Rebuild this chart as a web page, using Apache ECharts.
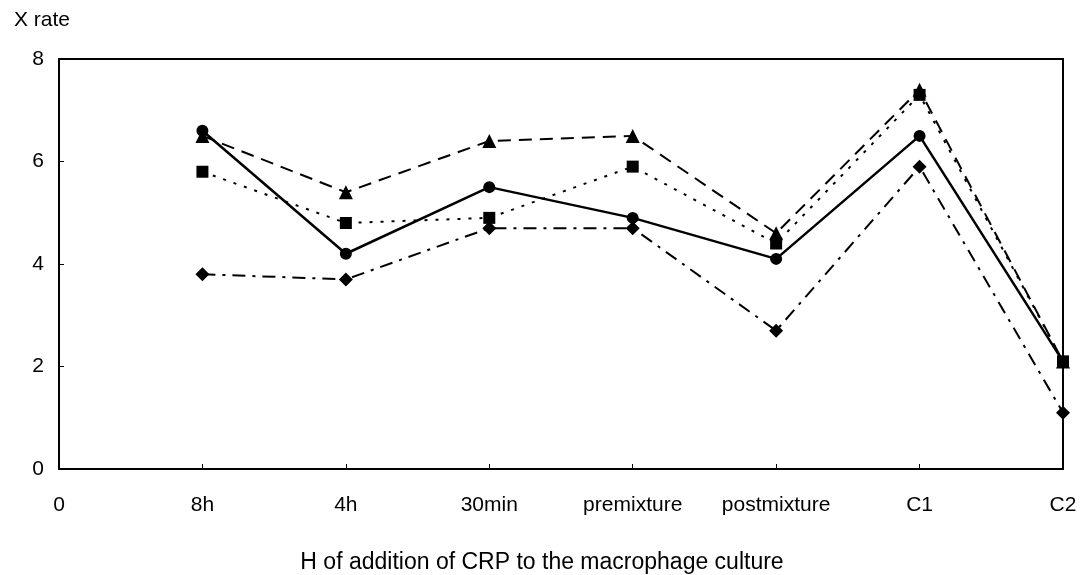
<!DOCTYPE html>
<html>
<head>
<meta charset="utf-8">
<script src="https://cdn.jsdelivr.net/npm/echarts@6/dist/echarts.min.js"></script>
<style>html,body{margin:0;padding:0;background:#fff;}#c{width:1081px;height:575px;}</style>
</head>
<body>
<div id="c"></div>
<script>
var categories = ['8h', '4h', '30min', 'premixture', 'postmixture', 'C1', 'C2'];
var xTickLabels = ['0'].concat(categories);
var circleSeries = [6.6, 4.2, 5.5, 4.9, 4.1, 6.5, 2.1];
var triangleSeries = [6.5, 5.4, 6.4, 6.5, 4.6, 7.4, 2.1];
var squareSeries = [5.8, 4.8, 4.9, 5.9, 4.4, 7.3, 2.1];
var diamondSeries = [3.8, 3.7, 4.7, 4.7, 2.7, 5.9, 1.1];
var yTicks = [0, 2, 4, 6, 8];

function pts(arr) { return arr.map(function (v, i) { return [i + 1, v]; }); }

var font = 'Liberation Sans, Arial, sans-serif';
var chart = echarts.init(document.getElementById('c'), null, {renderer: 'canvas'});
chart.setOption({
  animation: false,
  backgroundColor: '#fff',
  title: [
    {text: 'X rate', left: 9, top: 5, textStyle: {fontFamily: font, fontSize: 21, fontWeight: 'normal', color: '#000'}},
    {text: 'H of addition of CRP to the macrophage culture', left: 537, top: 546, textAlign: 'center',
     textStyle: {fontFamily: font, fontSize: 23, fontWeight: 'normal', color: '#000'}}
  ],
  grid: {left: 59, right: 18, top: 59, bottom: 106, show: true, borderColor: '#000', borderWidth: 2, backgroundColor: 'transparent'},
  xAxis: {
    type: 'value', min: 0, max: 7, interval: 1,
    axisLine: {show: true, lineStyle: {color: '#000', width: 2}},
    axisTick: {show: true, inside: true, length: 5, lineStyle: {color: '#000', width: 1}},
    splitLine: {show: false},
    axisLabel: {margin: 26, fontFamily: font, fontSize: 21, color: '#000',
      formatter: function (v) { return xTickLabels[Math.round(v)] || ''; }}
  },
  yAxis: {
    type: 'value', min: yTicks[0], max: yTicks[yTicks.length - 1], interval: 2,
    axisLine: {show: true, lineStyle: {color: '#000', width: 2}},
    axisTick: {show: true, inside: true, length: 5, lineStyle: {color: '#000', width: 1}},
    splitLine: {show: false},
    axisLabel: {margin: 15, fontFamily: font, fontSize: 21, color: '#000'}
  },
  series: [
    {type: 'line', name: 'diamond', data: pts(diamondSeries), symbol: 'diamond', symbolSize: 14,
     itemStyle: {color: '#000'}, lineStyle: {color: '#000', width: 2, type: [13, 7, 3, 7]}},
    {type: 'line', name: 'square', data: pts(squareSeries), symbol: 'rect', symbolSize: 12,
     itemStyle: {color: '#000'}, lineStyle: {color: '#000', width: 2, type: [3, 8]}},
    {type: 'line', name: 'triangle', data: pts(triangleSeries), symbol: 'triangle', symbolSize: 14,
     itemStyle: {color: '#000'}, lineStyle: {color: '#000', width: 2, type: [13, 8]}},
    {type: 'line', name: 'circle', data: pts(circleSeries), symbol: 'circle', symbolSize: 12,
     itemStyle: {color: '#000'}, lineStyle: {color: '#000', width: 2.5, type: 'solid'}}
  ]
});
</script>
</body>
</html>
